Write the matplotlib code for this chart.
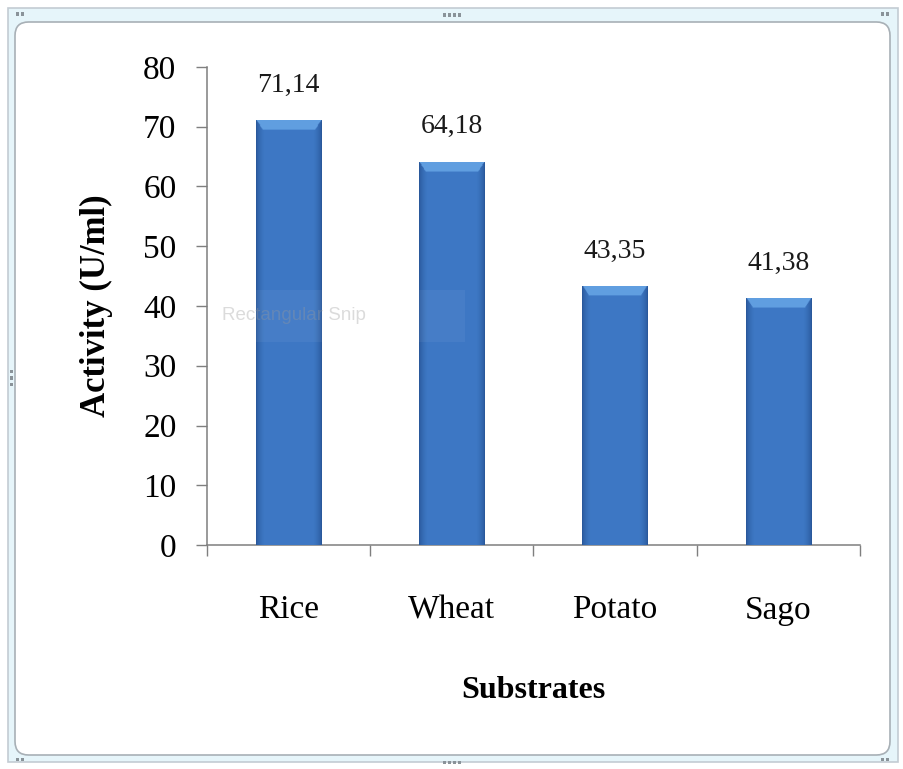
import numpy as np
import matplotlib
matplotlib.use("Agg")
import matplotlib.pyplot as plt
from matplotlib.patches import Rectangle, FancyBboxPatch

substrates = ["Rice", "Wheat", "Potato", "Sago"]
activity = [71.14, 64.18, 43.35, 41.38]
value_labels = ["71,14", "64,18", "43,35", "41,38"]
y_ticks = [0, 10, 20, 30, 40, 50, 60, 70, 80]

plt.rcParams["font.family"] = ["Liberation Serif", "DejaVu Serif"]

W, H = 904, 769
fig = plt.figure(figsize=(W / 100, H / 100), dpi=100)


def px(x0, y0, x1, y1):
    # pixel box (top-left origin) -> figure fraction (left, bottom, width, height)
    return x0 / W, 1 - y1 / H, (x1 - x0) / W, (y1 - y0) / H


# outer frame of the chart object
l, b, w, h = px(8, 8, 898, 762)
fig.patches.append(Rectangle((l, b), w, h, transform=fig.transFigure,
                             facecolor="#e6f5fa", edgecolor="#c3ccd3", lw=1.2,
                             zorder=-10))
l, b, w, h = px(15, 22, 890, 755)
fig.patches.append(FancyBboxPatch((l, b), w, h, transform=fig.transFigure,
                                  boxstyle="round,pad=0,rounding_size=0.015",
                                  mutation_aspect=W / H,
                                  facecolor="white", edgecolor="#a8b0b6", lw=1.2,
                                  zorder=-9))
# sizing handles
for (hx, hy, n, horiz) in [(452, 15, 4, True), (452, 762, 4, True),
                           (11, 378, 3, False), (20, 14, 2, True),
                           (885, 14, 2, True), (20, 759, 2, True), (885, 759, 2, True)]:
    for k in range(n):
        dx = (k - (n - 1) / 2) * 5
        xx = hx + dx if horiz else hx
        yy = hy if horiz else hy + dx * 1.4
        fig.patches.append(Rectangle(((xx - 1.5) / W, 1 - (yy + 1.5) / H), 3 / W, 3 / H,
                                     transform=fig.transFigure, facecolor="#8a9399",
                                     edgecolor="none", zorder=-8))

ax = fig.add_axes([207 / W, 1 - 545 / H, (860 - 207) / W, (545 - 67) / H])
ax.set_facecolor("none")

x = np.arange(len(substrates))
bars = ax.bar(x, activity, width=0.4, color="#3a73bd", edgecolor="none", zorder=2)

# shaded bevel fill for every bar
nx, ny = 80, 400
u = np.linspace(0, 1, nx)
edge = np.minimum(u, 1 - u)
prof = np.clip(edge / 0.12, 0, 1) ** 0.6
dark = np.array([0.16, 0.34, 0.60])
mid = np.array([0.24, 0.47, 0.77])
light = np.array([0.38, 0.62, 0.88])
for bar in bars:
    x0, y0 = bar.get_x(), bar.get_y()
    bw, bh = bar.get_width(), bar.get_height()
    bevel = 1.7 / bh  # top bevel as a fraction of the bar height
    depth = np.linspace(0, 1, ny)[:, None]  # 0 at the top of the bar
    img = dark + (mid - dark) * prof[None, :, None]
    img = np.broadcast_to(img, (ny, nx, 3)).copy()
    top = (depth < bevel) & (edge[None, :] > 0.1 * depth / bevel)
    img[top] = light
    im = ax.imshow(img, extent=(x0, x0 + bw, y0, y0 + bh), aspect="auto",
                   origin="upper", zorder=3, interpolation="bilinear")
    im.set_clip_path(bar)

for xi, val, lab in zip(x, activity, value_labels):
    ax.annotate(lab, (xi, val), xytext=(0, 16), textcoords="offset points",
                ha="center", va="bottom", fontsize=20, color="#1a1a1a")

ax.set_xlim(-0.5, len(substrates) - 0.5)
ax.set_ylim(0, 80)
ax.set_yticks(y_ticks)
ax.tick_params(axis="y", labelsize=24, length=8, width=1, color="#7f7f7f", pad=14)
ax.set_xticks(x)
ax.set_xticklabels(substrates)
ax.tick_params(axis="x", which="major", length=0, labelsize=24, pad=36)
ax.set_xticks(np.arange(len(substrates) + 1) - 0.5, minor=True)
ax.tick_params(axis="x", which="minor", length=8, width=1, color="#7f7f7f")

for s in ["top", "right"]:
    ax.spines[s].set_visible(False)
for s in ["left", "bottom"]:
    ax.spines[s].set_color("#7f7f7f")
    ax.spines[s].set_linewidth(1.1)

ax.set_ylabel("Activity (U/ml)", fontsize=25, fontweight="bold", labelpad=22)
ax.set_xlabel("Substrates", fontsize=23, fontweight="bold", labelpad=36)

# faint snipping-tool tooltip lying over the plot
l, b, w, h = px(255, 290, 465, 342)
fig.patches.append(Rectangle((l, b), w, h, transform=fig.transFigure,
                             facecolor="white", alpha=0.05, edgecolor="none", zorder=5))
fig.text(222 / W, 1 - 316 / H, "Rectangular Snip", fontsize=13.5, color="#9a9a9a",
         alpha=0.35, family=["Liberation Sans", "DejaVu Sans"],
         ha="left", va="center", zorder=6)

fig.savefig("out.png", dpi=100)
